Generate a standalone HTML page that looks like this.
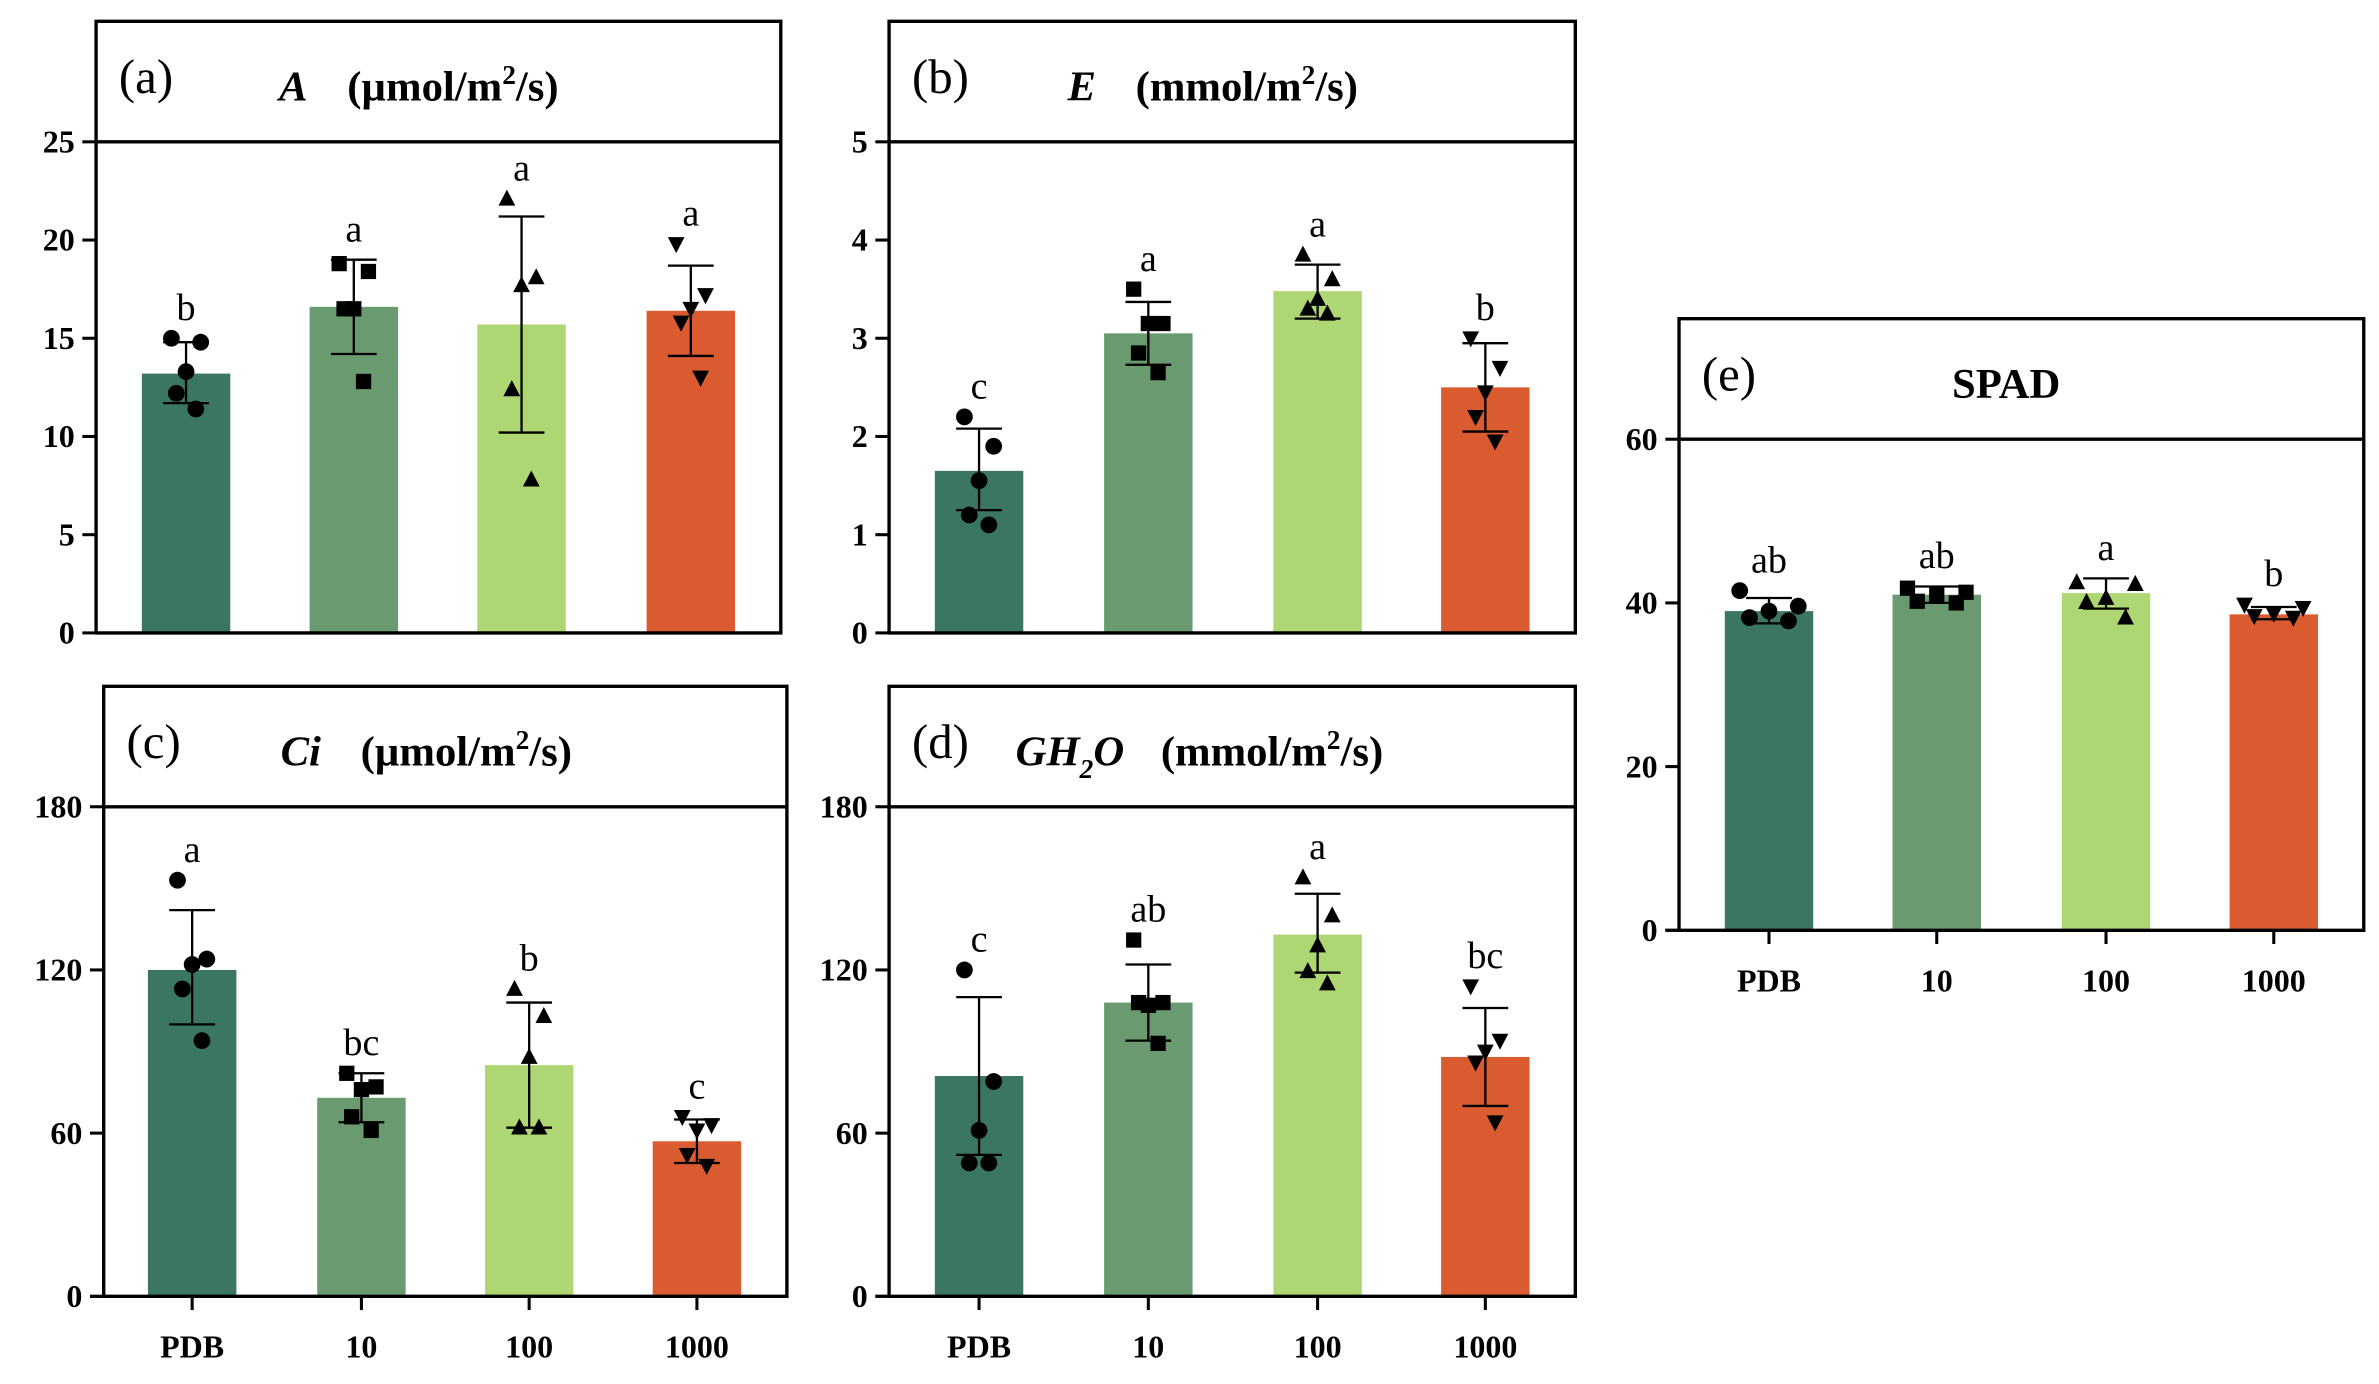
<!DOCTYPE html>
<html><head><meta charset="utf-8"><style>
html,body{margin:0;padding:0;background:#fff;}
svg{display:block;}
text{font-family:"Liberation Serif",serif;fill:#000;}
</style></head><body>
<svg id="fig" width="2379" height="1384" viewBox="0 0 1560 907.5" preserveAspectRatio="none" xmlns="http://www.w3.org/2000/svg"></svg>
<script>
const categories = ["PDB","10","100","1000"];
const colors = ["#3a7661","#6a9a6f","#aed672","#d95b2f"];
const markers = ["circle","square","tri","dtri"];

const aMeans = [13.2,16.6,15.7,16.4];
const aLo = [11.7,14.2,10.2,14.1];
const aHi = [14.8,19.0,21.2,18.7];
const aPts = [[15,14.8,13.3,12.2,11.4],[18.8,18.4,16.5,16.5,12.8],[22.1,18.1,17.7,12.4,7.8],[19.8,17.2,16.5,15.8,13.0]];
const aLetters = ["b","a","a","a"];
const aTicks = [0,5,10,15,20,25];

const eMeans = [1.65,3.05,3.48,2.5];
const eLo = [1.25,2.73,3.2,2.05];
const eHi = [2.08,3.37,3.75,2.95];
const ePts = [[2.2,1.9,1.55,1.2,1.1],[3.5,3.15,3.15,2.85,2.65],[3.85,3.6,3.4,3.3,3.25],[3.0,2.7,2.45,2.2,1.95]];
const eLetters = ["c","a","a","b"];
const eTicks = [0,1,2,3,4,5];

const ciMeans = [120,73,85,57];
const ciLo = [100,64,62,49];
const ciHi = [142,82,108,65];
const ciPts = [[153,124,122,113,94],[82,77,76,66,61],[113,103,88,62,62],[66,63,61,52,48]];
const ciLetters = ["a","bc","b","c"];
const ciTicks = [0,60,120,180];

const gMeans = [81,108,133,88];
const gLo = [52,94,119,70];
const gHi = [110,122,148,106];
const gPts = [[120,79,61,49,49],[131,108,107,108,93],[154,140,129,119.5,115],[114,94,90,86,64]];
const gLetters = ["c","ab","a","bc"];
const gTicks = [0,60,120,180];

const sMeans = [39,41,41.2,38.6];
const sLo = [37.5,40,39.3,38];
const sHi = [40.6,42,43,39.5];
const sPts = [[41.5,39.6,39,38.2,37.8],[41.8,41.3,41,40.2,40],[42.5,42.3,40.6,40.1,38.2],[39.8,39.4,38.7,38.4,38.2]];
const sLetters = ["ab","ab","a","b"];
const sTicks = [0,20,40,60];

const NS="http://www.w3.org/2000/svg";
const svg=document.getElementById('fig');
function mk(tag,attrs,parent,txt){const e=document.createElementNS(NS,tag);for(const k in attrs)e.setAttribute(k,attrs[k]);if(txt!==undefined)e.textContent=txt;(parent||svg).appendChild(e);return e;}

function panel(cfg){
  const g=mk('g',{});
  
  
  const {L,R,T,H,B,max,ticks,centers,means,lo,hi,pts,letters}=cfg;
  const y=v=>B-(v/max)*(B-H);
  const bw=58;
  means.forEach((m,i)=>{
    const r=mk('rect',{x:centers[i]-bw/2,y:y(m),width:bw,height:B-y(m),fill:colors[i]},g);
    
    
  });
  pts.forEach((arr,i)=>{
    const off=[-12,12,0,-8,8];
    arr.forEach((v,j)=>{
      const cx=centers[i]+(cfg.spread?off[j]*cfg.spread:off[j]*0.8), cy=y(v);
      let e;
      if(markers[i]==='circle') e=mk('circle',{cx,cy,r:5.5,fill:'#000'},g);
      else if(markers[i]==='square') e=mk('rect',{x:cx-5,y:cy-5,width:10,height:10,fill:'#000'},g);
      else if(markers[i]==='tri') e=mk('polygon',{points:`${cx},${cy-6} ${cx-5.5},${cy+4.5} ${cx+5.5},${cy+4.5}`,fill:'#000'},g);
      else e=mk('polygon',{points:`${cx},${cy+6} ${cx-5.5},${cy-4.5} ${cx+5.5},${cy-4.5}`,fill:'#000'},g);
      
      
    });
  });
  lo.forEach((l,i)=>{
    const c=centers[i];
    const eb=mk('path',{d:`M${c},${y(l)}V${y(hi[i])}M${c-15},${y(l)}H${c+15}M${c-15},${y(hi[i])}H${c+15}`,stroke:'#000','stroke-width':1.5,fill:'none'},g);
    
    
    const top=Math.min(y(hi[i]),...pts[i].map(y))-12;
    const t=mk('text',{x:c,y:top,'text-anchor':'middle','font-size':25},g,letters[i]);
    
    
  });
  const f=mk('path',{d:`M${L},${B}V${T}H${R}V${B}Z M${L},${H}H${R}`,stroke:'#000','stroke-width':2.2,fill:'none'},g);
  
  
  ticks.forEach(v=>{
    mk('line',{x1:L-9,x2:L,y1:y(v),y2:y(v),stroke:'#000','stroke-width':2},g);
    const t=mk('text',{x:L-14,y:y(v)+7,'text-anchor':'end','font-size':21,'font-weight':'bold'},g,String(v));
    
    
  });
  if(cfg.xlabels){
    mk('line',{x1:L-9,x2:L,y1:B,y2:B,stroke:'#000','stroke-width':2},g);
    centers.forEach((c,i)=>{
      mk('line',{x1:c,x2:c,y1:B,y2:B+9,stroke:'#000','stroke-width':2},g);
      const t=mk('text',{x:c,y:B+40,'text-anchor':'middle','font-size':21,'font-weight':'bold'},g,categories[i]);
      
      
    });
  }
  const tl=mk('text',{x:L+15,y:T+47,'font-size':32},g,cfg.tag);
  
  
  const tt=mk('text',{x:cfg.tx,y:T+52,'font-size':28,'font-weight':'bold'},g);
  
  
  tt.innerHTML=cfg.title;
}

panel({id:'a',tag:'(a)',L:63,R:512,T:14,H:93,B:415,max:25,ticks:aTicks,centers:[122,232,342,453],means:aMeans,lo:aLo,hi:aHi,pts:aPts,letters:aLetters,tx:183,
 title:'<tspan font-style="italic">A</tspan><tspan dx="26">(µmol/m</tspan><tspan dy="-11" font-size="18">2</tspan><tspan dy="11">/s)</tspan>'});
panel({id:'b',tag:'(b)',L:583,R:1033,T:14,H:93,B:415,max:5,ticks:eTicks,centers:[642,753,864,974],means:eMeans,lo:eLo,hi:eHi,pts:ePts,letters:eLetters,tx:700,
 title:'<tspan font-style="italic">E</tspan><tspan dx="26">(mmol/m</tspan><tspan dy="-11" font-size="18">2</tspan><tspan dy="11">/s)</tspan>'});
panel({id:'c',tag:'(c)',L:68,R:516,T:450,H:529,B:850,max:180,ticks:ciTicks,centers:[126,237,347,457],means:ciMeans,lo:ciLo,hi:ciHi,pts:ciPts,letters:ciLetters,tx:184,xlabels:true,
 title:'<tspan font-style="italic">Ci</tspan><tspan dx="26">(µmol/m</tspan><tspan dy="-11" font-size="18">2</tspan><tspan dy="11">/s)</tspan>'});
panel({id:'d',tag:'(d)',L:583,R:1033,T:450,H:529,B:850,max:180,ticks:gTicks,centers:[642,753,864,974],means:gMeans,lo:gLo,hi:gHi,pts:gPts,letters:gLetters,tx:666,xlabels:true,
 title:'<tspan font-style="italic">GH</tspan><tspan font-style="italic" dy="8" font-size="18">2</tspan><tspan font-style="italic" dy="-8">O</tspan><tspan dx="24">(mmol/m</tspan><tspan dy="-11" font-size="18">2</tspan><tspan dy="11">/s)</tspan>'});
panel({id:'e',tag:'(e)',L:1101,R:1550,T:209,H:288,B:610,max:60,ticks:sTicks,centers:[1160,1270,1381,1491],means:sMeans,lo:sLo,hi:sHi,pts:sPts,letters:sLetters,tx:1280,xlabels:true,spread:1.6,
 title:'SPAD'});
</script>
</body></html>
